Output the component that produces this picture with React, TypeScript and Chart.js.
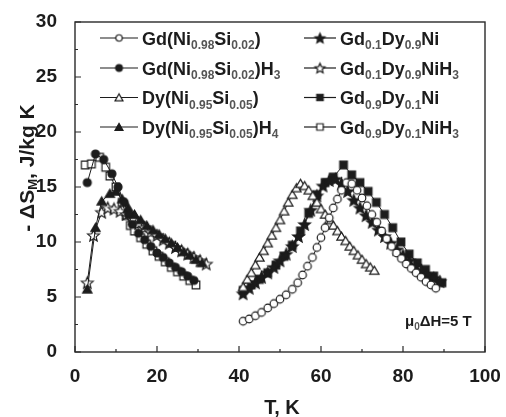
import React, { useEffect, useRef } from 'react';
import { Chart, registerables } from 'chart.js';

Chart.register(...registerables);

// ---- data ----
const xTickValues = [0, 20, 40, 60, 80, 100];
const yTickValues = [0, 5, 10, 15, 20, 25, 30];

// Gd(Ni0.98Si0.02) - open circle
const tGdNiSi = [41, 42.5, 44, 45.5, 47, 48.5, 50, 51.5, 53, 54.3, 55.5, 56.7, 57.9, 59, 60, 61, 62, 63, 64, 65, 66.2, 67.5, 68.8, 70, 71.2, 72.4, 73.6, 74.8, 76, 77.2, 78.4, 79.6, 80.8, 82, 83.2, 84.4, 85.6, 86.8, 88];
const sGdNiSi = [2.8, 3.0, 3.3, 3.6, 4.0, 4.4, 4.8, 5.2, 5.7, 6.3, 7.0, 7.8, 8.6, 9.5, 10.4, 11.3, 12.2, 13.1, 13.9, 14.7, 15.4, 15.3, 14.7, 14.0, 13.3, 12.5, 11.8, 11.0, 10.3, 9.6, 9.0, 8.5, 8.0, 7.6, 7.2, 6.8, 6.4, 6.1, 5.8];

// Gd(Ni0.98Si0.02)H3 - filled circle
const tGdNiSiH3 = [3, 5, 7, 9, 10.5, 12, 13, 14, 15.5, 17, 18.5, 20, 21.5, 23, 24.5, 26, 27.5, 29];
const sGdNiSiH3 = [15.4, 18.0, 17.5, 16.2, 15.0, 13.6, 12.5, 11.6, 10.8, 10.2, 9.6, 9.0, 8.6, 8.1, 7.7, 7.3, 6.9, 6.5];

// Dy(Ni0.95Si0.05) - open triangle
const tDyNiSi = [41, 42, 43, 44, 45, 46, 47, 48, 49, 50, 51, 52, 53, 54, 55, 56, 57, 58, 59, 60, 61, 62, 63, 64, 65, 66, 67, 68, 69, 70, 71, 72, 73];
const sDyNiSi = [5.9, 6.6, 7.2, 7.9, 8.6, 9.2, 9.9, 10.6, 11.3, 12.0, 12.8, 13.6, 14.3, 14.9, 15.3, 15.1, 14.7, 14.2, 13.6, 13.0, 12.5, 12.0, 11.5, 11.0, 10.5, 10.1, 9.6, 9.2, 8.8, 8.4, 8.0, 7.7, 7.4];

// Dy(Ni0.95Si0.05)H4 - filled triangle
const tDyNiSiH4 = [3, 5, 6.5, 8.5, 10, 11.5, 13, 14.5, 16, 17.5, 19, 20.5, 22, 23.5, 25, 26.5, 28, 29.5, 31];
const sDyNiSiH4 = [5.7, 11.3, 13.7, 14.4, 14.6, 13.9, 13.1, 12.5, 12.0, 11.5, 11.1, 10.7, 10.3, 9.9, 9.5, 9.1, 8.8, 8.4, 8.1];

// Gd0.1Dy0.9Ni - filled star
const tGd01Dy09Ni = [41, 42.5, 44, 45.5, 47, 48.5, 50, 51.5, 53, 54.5, 56, 57.5, 59, 60.5, 62, 63.5, 65, 66.5, 68, 69.5, 71, 72.5, 74, 75.5, 77, 78.5, 80, 81.5, 83, 84.5, 86, 87.5, 89];
const sGd01Dy09Ni = [5.3, 5.8, 6.3, 6.8, 7.2, 7.7, 8.3, 8.9, 9.6, 10.5, 11.6, 12.9, 14.2, 15.1, 15.6, 15.7, 15.3, 14.6, 13.8, 13.1, 12.4, 11.8, 11.1, 10.5, 9.9, 9.3, 8.8, 8.3, 7.8, 7.4, 7.0, 6.7, 6.4];

// Gd0.1Dy0.9NiH3 - open star
const tGd01Dy09NiH3 = [3, 4.5, 6.5, 8, 9.5, 11, 12.5, 14, 15.5, 17, 18.5, 20, 21.5, 23, 24.5, 26, 27.5, 29, 30.5, 32];
const sGd01Dy09NiH3 = [6.3, 10.6, 12.7, 13.1, 13.0, 12.8, 12.5, 12.1, 11.7, 11.3, 10.9, 10.6, 10.2, 9.9, 9.5, 9.2, 8.9, 8.6, 8.3, 8.0];

// Gd0.9Dy0.1Ni - filled square
const tGd09Dy01Ni = [41, 43, 45, 47, 49, 51, 53, 55, 57, 59, 61, 63, 65.5, 67.5, 69.5, 71.5, 73.5, 75.5, 77.5, 79.5, 81.5, 83.5, 85.5, 87.5, 89.5];
const sGd09Dy01Ni = [5.6, 6.1, 6.6, 7.2, 7.9, 8.7, 9.7, 11.0, 12.6, 14.3, 15.4, 15.9, 17.0, 16.1, 15.4, 14.6, 13.6, 12.5, 11.3, 10.0, 8.9, 8.1, 7.5, 6.9, 6.3];

// Gd0.9Dy0.1NiH3 - open square
const tGd09Dy01NiH3 = [2.5, 4, 6, 7.5, 8.5, 10, 11.5, 12.5, 13.5, 14.5, 16, 17.5, 19, 20.5, 22, 23.5, 25, 26.5, 28, 29.5];
const sGd09Dy01NiH3 = [17.0, 17.1, 17.7, 16.8, 16.0, 15.0, 13.6, 12.4, 11.5, 11.0, 10.4, 9.8, 9.2, 8.7, 8.2, 7.7, 7.3, 6.9, 6.5, 6.1];

type Seg = { t: string; sub?: boolean };

const legendLabels: Seg[][] = [
  [{ t: 'Gd(Ni' }, { t: '0.98', sub: true }, { t: 'Si' }, { t: '0.02', sub: true }, { t: ')' }],
  [{ t: 'Gd(Ni' }, { t: '0.98', sub: true }, { t: 'Si' }, { t: '0.02', sub: true }, { t: ')H' }, { t: '3', sub: true }],
  [{ t: 'Dy(Ni' }, { t: '0.95', sub: true }, { t: 'Si' }, { t: '0.05', sub: true }, { t: ')' }],
  [{ t: 'Dy(Ni' }, { t: '0.95', sub: true }, { t: 'Si' }, { t: '0.05', sub: true }, { t: ')H' }, { t: '4', sub: true }],
  [{ t: 'Gd' }, { t: '0.1', sub: true }, { t: 'Dy' }, { t: '0.9', sub: true }, { t: 'Ni' }],
  [{ t: 'Gd' }, { t: '0.1', sub: true }, { t: 'Dy' }, { t: '0.9', sub: true }, { t: 'NiH' }, { t: '3', sub: true }],
  [{ t: 'Gd' }, { t: '0.9', sub: true }, { t: 'Dy' }, { t: '0.1', sub: true }, { t: 'Ni' }],
  [{ t: 'Gd' }, { t: '0.9', sub: true }, { t: 'Dy' }, { t: '0.1', sub: true }, { t: 'NiH' }, { t: '3', sub: true }],
];

const yTitle: Seg[] = [{ t: '- ΔS' }, { t: 'M', sub: true }, { t: ', J/kg K' }];
const xTitle = 'T, K';
const fieldNote: Seg[] = [{ t: 'μ' }, { t: '0', sub: true }, { t: 'ΔH=5 T' }];

const FONT = '"Liberation Sans", Arial, sans-serif';
const INK = '#1c1c1c';

function makeMarker(shape: string, filled: boolean, r: number): HTMLCanvasElement {
  const s = Math.ceil(r * 2 + 4);
  const c = document.createElement('canvas');
  c.width = s;
  c.height = s;
  const ctx = c.getContext('2d')!;
  const cx = s / 2;
  const cy = s / 2;
  ctx.beginPath();
  if (shape === 'circle') {
    ctx.arc(cx, cy, r, 0, Math.PI * 2);
  } else if (shape === 'rect') {
    ctx.rect(cx - r, cy - r, 2 * r, 2 * r);
  } else if (shape === 'triangle') {
    for (let i = 0; i < 3; i++) {
      const a = -Math.PI / 2 + (i * 2 * Math.PI) / 3;
      const px = cx + r * Math.cos(a);
      const py = cy + 1 + r * Math.sin(a);
      if (i === 0) ctx.moveTo(px, py);
      else ctx.lineTo(px, py);
    }
  } else {
    for (let i = 0; i < 10; i++) {
      const a = -Math.PI / 2 + (i * Math.PI) / 5;
      const rr = i % 2 === 0 ? r : r * 0.45;
      const px = cx + rr * Math.cos(a);
      const py = cy + 0.5 + rr * Math.sin(a);
      if (i === 0) ctx.moveTo(px, py);
      else ctx.lineTo(px, py);
    }
  }
  ctx.closePath();
  ctx.fillStyle = filled ? INK : '#ffffff';
  ctx.fill();
  ctx.lineWidth = 1.2;
  ctx.strokeStyle = INK;
  ctx.lineJoin = 'miter';
  ctx.stroke();
  return c;
}

function richWidth(ctx: CanvasRenderingContext2D, segs: Seg[], size: number, subSize: number) {
  let w = 0;
  for (const s of segs) {
    ctx.font = `bold ${s.sub ? subSize : size}px ${FONT}`;
    w += ctx.measureText(s.t).width;
  }
  return w;
}

function drawRich(
  ctx: CanvasRenderingContext2D,
  segs: Seg[],
  x: number,
  y: number,
  size: number,
  subSize: number,
  subDy: number,
  subColor: string
) {
  let cx = x;
  ctx.textBaseline = 'alphabetic';
  ctx.textAlign = 'left';
  for (const s of segs) {
    ctx.font = `bold ${s.sub ? subSize : size}px ${FONT}`;
    ctx.fillStyle = s.sub ? subColor : INK;
    ctx.fillText(s.t, cx, s.sub ? y + subDy : y);
    cx += ctx.measureText(s.t).width;
  }
}

export default function App() {
  const ref = useRef<HTMLCanvasElement | null>(null);

  useEffect(() => {
    const canvas = ref.current;
    if (!canvas) return;

    const series = [
      { label: 'GdNiSi', t: tGdNiSi, s: sGdNiSi, shape: 'circle', filled: false, r: 3.8 },
      { label: 'GdNiSiH3', t: tGdNiSiH3, s: sGdNiSiH3, shape: 'circle', filled: true, r: 4.0 },
      { label: 'DyNiSi', t: tDyNiSi, s: sDyNiSi, shape: 'triangle', filled: false, r: 5.4 },
      { label: 'DyNiSiH4', t: tDyNiSiH4, s: sDyNiSiH4, shape: 'triangle', filled: true, r: 5.4 },
      { label: 'Gd01Dy09Ni', t: tGd01Dy09Ni, s: sGd01Dy09Ni, shape: 'star', filled: true, r: 6.2 },
      { label: 'Gd01Dy09NiH3', t: tGd01Dy09NiH3, s: sGd01Dy09NiH3, shape: 'star', filled: false, r: 6.2 },
      { label: 'Gd09Dy01Ni', t: tGd09Dy01Ni, s: sGd09Dy01Ni, shape: 'rect', filled: true, r: 3.8 },
      { label: 'Gd09Dy01NiH3', t: tGd09Dy01NiH3, s: sGd09Dy01NiH3, shape: 'rect', filled: false, r: 3.8 },
    ];

    const markers = series.map((d) => makeMarker(d.shape, d.filled, d.r));
    const legendMarkers = series.map((d) => makeMarker(d.shape, d.filled, d.r * 0.85));

    const datasets = series.map((d, i) => ({
      label: d.label,
      data: d.t.map((x, j) => ({ x, y: d.s[j] })),
      showLine: true,
      borderColor: INK,
      borderWidth: 1,
      pointStyle: markers[i] as any,
      pointRadius: 5,
      backgroundColor: INK,
    }));

    const decor = {
      id: 'decor',
      afterDraw(chart: any) {
        const ctx: CanvasRenderingContext2D = chart.ctx;
        const area = chart.chartArea;
        const xs = chart.scales.x;
        const ys = chart.scales.y;
        ctx.save();
        // frame
        ctx.strokeStyle = '#2a2a2a';
        ctx.lineWidth = 1.4;
        ctx.strokeRect(area.left, area.top, area.right - area.left, area.bottom - area.top);
        // inward ticks
        ctx.lineWidth = 1.2;
        ctx.beginPath();
        for (let v = 0; v <= 100; v += 10) {
          const px = xs.getPixelForValue(v);
          const len = v % 20 === 0 ? 6 : 3;
          ctx.moveTo(px, area.bottom);
          ctx.lineTo(px, area.bottom - len);
        }
        for (let v = 0; v <= 30; v += 2.5) {
          const py = ys.getPixelForValue(v);
          const len = v % 5 === 0 ? 6 : 3;
          ctx.moveTo(area.left, py);
          ctx.lineTo(area.left + len, py);
        }
        ctx.stroke();

        // x title
        ctx.font = `bold 20px ${FONT}`;
        ctx.fillStyle = INK;
        ctx.textAlign = 'center';
        ctx.textBaseline = 'middle';
        ctx.fillText(xTitle, (area.left + area.right) / 2 + 2, 408);

        // y title
        ctx.save();
        ctx.translate(26, 168);
        ctx.rotate(-Math.PI / 2);
        const yw = richWidth(ctx, yTitle, 21, 13);
        drawRich(ctx, yTitle, -yw / 2, 7.5, 21, 13, 3, INK);
        ctx.restore();

        // legend
        const rows = [38, 68, 97.5, 127];
        const cols = [
          { x1: 100, x2: 138, tx: 142 },
          { x1: 304, x2: 336, tx: 340 },
        ];
        for (let i = 0; i < series.length; i++) {
          const col = cols[i < 4 ? 0 : 1];
          const y = rows[i % 4];
          ctx.strokeStyle = INK;
          ctx.lineWidth = 1.2;
          ctx.beginPath();
          ctx.moveTo(col.x1, y);
          ctx.lineTo(col.x2, y);
          ctx.stroke();
          const m = legendMarkers[i];
          ctx.drawImage(m, (col.x1 + col.x2) / 2 - m.width / 2, y - m.height / 2);
          drawRich(ctx, legendLabels[i], col.tx, y + 6.5, 18, 12, 4.5, '#555');
        }

        // field annotation
        drawRich(ctx, fieldNote, 405, 326, 15, 10, 3.5, '#555');
        ctx.restore();
      },
    };

    const tickFont = { family: FONT, size: 19, weight: 'bold' as const };

    const chart = new Chart(canvas, {
      type: 'scatter',
      data: { datasets: datasets as any },
      options: {
        animation: false,
        responsive: false,
        maintainAspectRatio: false,
        devicePixelRatio: 1,
        layout: { padding: { top: 22, right: 21, left: 0, bottom: 0 } },
        plugins: {
          legend: { display: false },
          tooltip: { enabled: false },
        },
        scales: {
          x: {
            type: 'linear',
            min: 0,
            max: 100,
            afterBuildTicks: (scale: any) => {
              scale.ticks = xTickValues.map((v) => ({ value: v }));
            },
            ticks: { font: tickFont, color: INK, padding: 5, maxRotation: 0 },
            grid: { display: false },
            border: { display: false },
            afterFit: (scale: any) => {
              scale.height = 65;
            },
          },
          y: {
            type: 'linear',
            min: 0,
            max: 30,
            afterBuildTicks: (scale: any) => {
              scale.ticks = yTickValues.map((v) => ({ value: v }));
            },
            ticks: { font: tickFont, color: INK, padding: 10 },
            grid: { display: false },
            border: { display: false },
            afterFit: (scale: any) => {
              scale.width = 75;
            },
          },
        },
      },
      plugins: [decor],
    });

    return () => {
      chart.destroy();
    };
  }, []);

  return (
    <div style={{ position: 'fixed', left: 0, top: 0, width: 506, height: 417, background: '#fff' }}>
      <canvas ref={ref} width={506} height={417} style={{ display: 'block', width: 506, height: 417 }} />
    </div>
  );
}
